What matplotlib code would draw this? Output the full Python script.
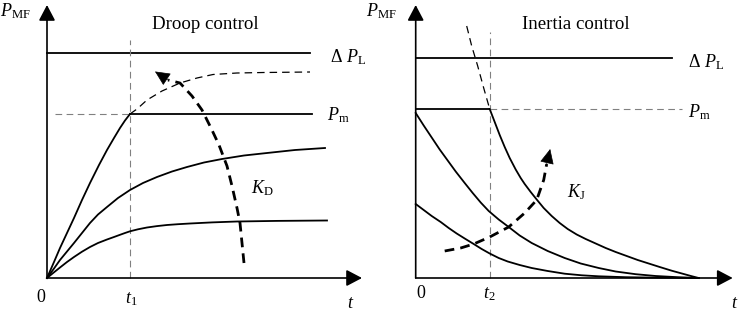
import matplotlib
matplotlib.use("Agg")
import matplotlib.pyplot as plt

plt.rcParams["font.family"] = "Liberation Serif"
plt.rcParams["mathtext.fontset"] = "custom"
plt.rcParams["mathtext.rm"] = "Liberation Serif"
plt.rcParams["mathtext.it"] = "Liberation Serif:italic"

# droop control panel (t, P, pixel-like units from the origin)
droop_top_t = [0, 7, 13, 20, 27, 35, 43, 52, 60, 67, 73, 78, 83]
droop_top_p = [0, 16, 30, 45, 60, 78, 95, 113, 128, 140, 150, 157.5, 164]
droop_ext_t = [83, 90, 100, 115, 133, 150, 166, 190, 217, 263]
droop_ext_p = [164, 169, 178, 187, 195, 200, 203.5, 205, 205.5, 206]
droop_mid_t = [0, 7, 13, 20, 27, 35, 43, 51, 60, 71, 83, 96, 110, 125, 140, 157,
               175, 197, 220, 248, 278]
droop_mid_p = [0, 9.5, 18, 26.5, 35, 45, 55, 63.5, 71, 80, 88, 95, 101, 106.5, 111,
               115.5, 119, 122.5, 125, 128, 130]
droop_low_t = [0, 7, 13, 20, 27, 35, 43, 51, 60, 67, 73, 78, 83, 91, 100, 110, 120,
               131, 143, 165, 190, 230, 280]
droop_low_p = [0, 5.7, 10.5, 16, 21, 26.3, 31, 35, 38.5, 41, 43.2, 45, 46.7, 48.7,
               50.5, 51.9, 53, 53.8, 54.5, 55.6, 56.5, 57.1, 57.5]
droop_dPL = 225
droop_Pm = 164
droop_t1 = 83
kd_t = [197, 195, 193, 190, 185, 180, 172, 164, 155, 145, 133, 121]
kd_p = [15, 35, 55, 70, 92, 112, 133, 150, 168, 182, 195, 198]
kd_tip = (108, 206.5)

# inertia control panel
inertia_ext_t = [51, 56, 62, 68, 74]
inertia_ext_p = [252, 232, 212, 190, 169]
inertia_top_t = [74, 79, 84, 89, 94, 100, 105, 109, 115, 121, 128, 136, 144, 152,
                 161, 170, 180, 190, 200, 211, 222, 233, 244, 256, 268, 276, 283]
inertia_top_p = [169, 156, 143, 131, 120, 108.5, 100, 94, 86, 78.5, 70, 62, 55, 49,
                 43.5, 39, 34.5, 30, 26, 22, 18, 14.5, 11, 7.3, 4, 1.8, 0]
inertia_mid_t = [0, 8, 16, 24, 32, 40, 49, 57, 65, 73, 83, 93, 104, 116, 132, 149,
                 165, 183, 200, 220, 240, 262, 283]
inertia_mid_p = [165, 152.5, 140.5, 128.5, 117.5, 106.5, 95, 85, 75.5, 67, 58.5, 51,
                 42.5, 35, 27, 20, 14.5, 10, 6.5, 3.8, 2, 0.8, 0]
inertia_low_t = [0, 8, 16, 25, 33, 41, 49, 58, 66, 74, 83, 92, 104, 116, 132, 149,
                 166, 183, 210, 245, 283]
inertia_low_p = [74, 68, 62, 56, 50, 44.5, 39.5, 34, 29, 24.5, 20, 16.5, 13, 10, 7,
                 4.3, 2.7, 1.7, 0.8, 0.3, 0]
inertia_dPL = 220
inertia_Pm = 169
inertia_t2 = 74
kj_t = [29, 45, 58, 74, 93, 109, 121, 128, 131]
kj_p = [27, 30, 34, 41, 51, 65, 78, 98, 114]
kj_tip = (134.5, 129)

FS = 13
GREY = "#808080"


def axis_arrows(ax, x_tip, y_tip):
    for tip in [(x_tip, 0), (0, y_tip)]:
        ax.annotate("", xy=tip, xytext=(0, 0),
                    arrowprops=dict(arrowstyle="-|>,head_length=0.95,head_width=0.5",
                                    lw=1.2, color="k", shrinkA=0, shrinkB=0,
                                    mutation_scale=10))


def thick_arrow(ax, ts, ps, tip):
    ax.plot(ts, ps, color="k", lw=2.0, dashes=(3.5, 2.2), solid_capstyle="butt")
    ax.annotate("", xy=tip, xytext=(ts[-1], ps[-1]),
                arrowprops=dict(arrowstyle="-|>,head_length=0.95,head_width=0.45",
                                lw=0.5, color="k", shrinkA=0, shrinkB=0,
                                mutation_scale=10))


fig = plt.figure(figsize=(7.4, 3.13), dpi=100)
axL = fig.add_axes([0, 0, 0.5, 1])
axR = fig.add_axes([0.5, 0, 0.5, 1])
axL.set_xlim(-47, 323)
axR.set_xlim(-45.7, 324.3)
for ax in (axL, axR):
    ax.set_ylim(-35, 278)
    ax.axis("off")

# ---- droop control
ax = axL
axis_arrows(ax, 315, 273)
ax.plot([0, 263], [droop_dPL, droop_dPL], color="k", lw=1.3)
ax.plot([8, droop_t1], [droop_Pm, droop_Pm], color=GREY, lw=0.8, dashes=(6, 4))
ax.plot([droop_t1, 265], [droop_Pm, droop_Pm], color="k", lw=1.3)
ax.plot([droop_t1, droop_t1], [0, 238], color=GREY, lw=0.8, dashes=(6, 4))
ax.plot(droop_top_t, droop_top_p, color="k", lw=1.3)
ax.plot(droop_ext_t, droop_ext_p, color="k", lw=0.9, dashes=(6, 4))
ax.plot(droop_mid_t, droop_mid_p, color="k", lw=1.3)
ax.plot(droop_low_t, droop_low_p, color="k", lw=1.3)
thick_arrow(ax, kd_t, kd_p, kd_tip)

ax.text(-47, 262, r"$P_{\mathrm{MF}}$", fontsize=FS, ha="left", va="baseline")
ax.text(158, 249, "Droop control", fontsize=13.6, ha="center", va="baseline")
ax.text(283, 216, r"$\Delta$ $P_{\mathrm{L}}$", fontsize=FS, ha="left", va="baseline")
ax.text(280, 158, r"$P_{\mathrm{m}}$", fontsize=FS, ha="left", va="baseline")
ax.text(204, 85, r"$K_{\mathrm{D}}$", fontsize=FS, ha="left", va="baseline")
ax.text(-6, -24, "0", fontsize=FS, ha="center", va="baseline")
ax.text(84, -25, r"$t_{\mathit{1}}$", fontsize=FS, ha="center", va="baseline")
ax.text(300, -30, r"$t$", fontsize=FS, ha="left", va="baseline")

# ---- inertia control
ax = axR
axis_arrows(ax, 317, 273)
ax.plot([0, 256], [inertia_dPL, inertia_dPL], color="k", lw=1.3)
ax.plot([0, inertia_t2], [inertia_Pm, inertia_Pm], color="k", lw=1.3)
ax.plot([inertia_t2, 266], [inertia_Pm, inertia_Pm], color=GREY, lw=0.8, dashes=(6, 4))
ax.plot([inertia_t2, inertia_t2], [0, 246], color=GREY, lw=0.8, dashes=(6, 4))
ax.plot(inertia_ext_t, inertia_ext_p, color="k", lw=0.9, dashes=(6, 4))
ax.plot(inertia_top_t, inertia_top_p, color="k", lw=1.3)
ax.plot(inertia_mid_t, inertia_mid_p, color="k", lw=1.3)
ax.plot(inertia_low_t, inertia_low_p, color="k", lw=1.3)
thick_arrow(ax, kj_t, kj_p, kj_tip)

ax.text(-49.7, 262, r"$P_{\mathrm{MF}}$", fontsize=FS, ha="left", va="baseline")
ax.text(160, 249, "Inertia control", fontsize=13.6, ha="center", va="baseline")
ax.text(272.7, 211, r"$\Delta$ $P_{\mathrm{L}}$", fontsize=FS, ha="left", va="baseline")
ax.text(272.7, 161, r"$P_{\mathrm{m}}$", fontsize=FS, ha="left", va="baseline")
ax.text(151, 81, r"$K_{\mathrm{J}}$", fontsize=FS, ha="left", va="baseline")
ax.text(5, -20, "0", fontsize=FS, ha="center", va="baseline")
ax.text(74, -20, r"$t_{2}$", fontsize=FS, ha="center", va="baseline")
ax.text(315, -30, r"$t$", fontsize=FS, ha="left", va="baseline")

fig.savefig("out.png", dpi=100)
